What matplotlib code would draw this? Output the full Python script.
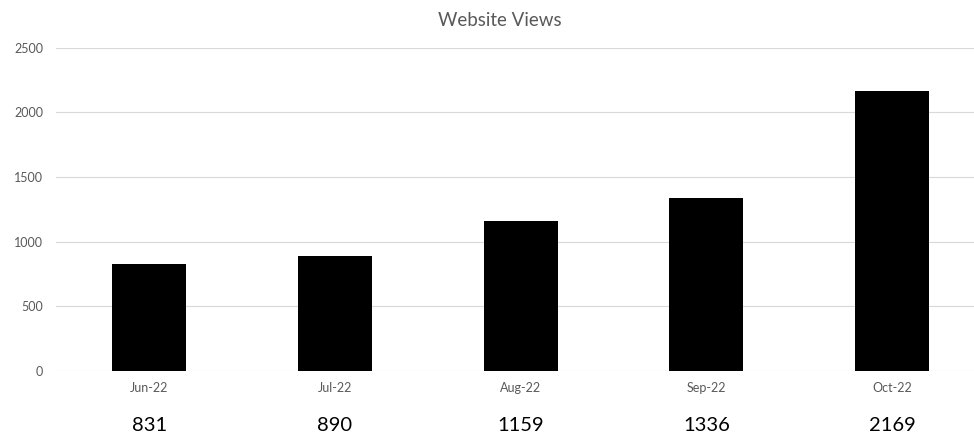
import matplotlib
matplotlib.use("Agg")
import matplotlib.pyplot as plt

months = ["Jun-22", "Jul-22", "Aug-22", "Sep-22", "Oct-22"]
views = [831, 890, 1159, 1336, 2169]
y_ticks = [0, 500, 1000, 1500, 2000, 2500]

W, H = 974, 444
plt.rcParams["font.family"] = ["Lato", "DejaVu Sans"]

fig = plt.figure(figsize=(W / 100, H / 100), dpi=100)
left, right = 56.4, 974
bottom, top = 371, 47.7
ax = fig.add_axes([left / W, 1 - bottom / H, (right - left) / W, (bottom - top) / H])

x = list(range(len(months)))
ax.bar(x, views, width=0.4, color="black", zorder=3)

spacing = 185.7
ax.set_xlim(-0.5, -0.5 + (right - left) / spacing)
ax.set_ylim(0, 2500)
ax.set_yticks(y_ticks)
ax.set_yticklabels([str(t) for t in y_ticks], color="#595959", fontsize=9)
ax.set_xticks(x)
ax.set_xticklabels(months, color="#595959", fontsize=9)
ax.tick_params(axis="both", length=0)
ax.tick_params(axis="y", pad=9.5)
ax.tick_params(axis="x", pad=8)
ax.grid(axis="y", color="#d9d9d9", linewidth=0.8, zorder=0)
for s in ax.spines.values():
    s.set_visible(False)

# values row below the axis
for xi, v in zip(x, views):
    ax.annotate(str(v), xy=(xi, 0), xycoords="data", xytext=(0, -54),
                textcoords="offset pixels", ha="center", va="center",
                fontsize=14.5, color="black")

fig.text(500 / W, 1 - 20 / H, "Website Views", ha="center", va="center",
         fontsize=13.5, color="#595959")

fig.savefig("out.png", dpi=100)
